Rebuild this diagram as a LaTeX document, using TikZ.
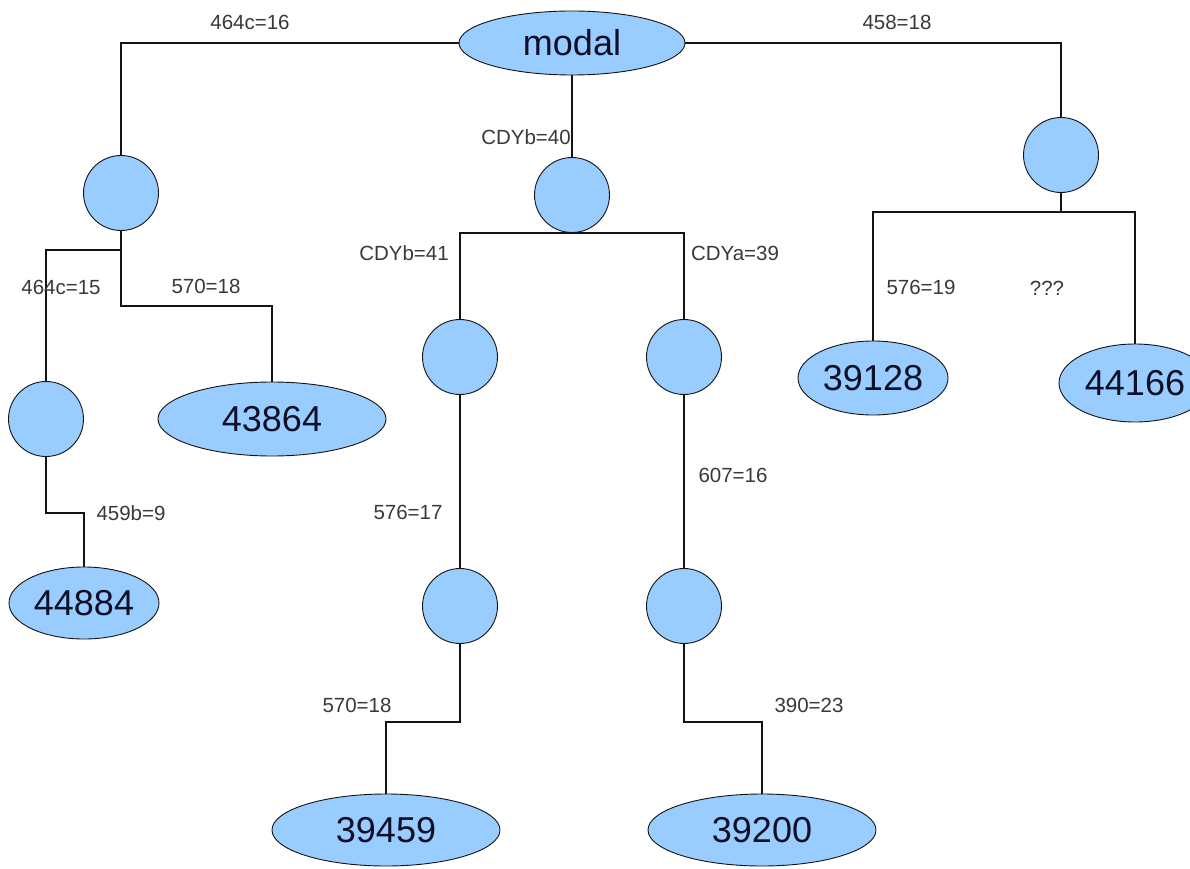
\documentclass[tikz,border=0pt]{standalone}
\usepackage{fontspec}
\setmainfont{Liberation Sans}
\usetikzlibrary{shapes.geometric}
\definecolor{nodefill}{RGB}{153,204,255}
\definecolor{edgecol}{RGB}{20,20,20}
\definecolor{labcol}{RGB}{60,55,60}
\definecolor{bigtext}{RGB}{15,15,40}
\tikzset{
  x=1pt, y=-1pt,
  leaf/.style={ellipse, draw=edgecol, fill=nodefill, line width=0.9pt, inner sep=0pt,
    text=bigtext, font=\fontsize{36}{40}\selectfont},
  split/.style={circle, draw=edgecol, fill=nodefill, line width=0.9pt, inner sep=0pt, minimum size=75pt},
  edge/.style={draw=edgecol, line width=1.1pt},
  lab/.style={text=labcol, font=\fontsize{20.5}{24}\selectfont, inner sep=0pt}
}
\begin{document}
\begin{tikzpicture}
\useasboundingbox (0,0) rectangle (1190,869);
\fill[white] (0,0) rectangle (1190,869);
% nodes
\node[leaf, minimum width=226pt, minimum height=64pt] (modal) at (572,43) {modal};
\node[split] (L1) at (121,193) {};
\node[split] (L2) at (46,419) {};
\node[leaf, minimum width=150pt, minimum height=72pt] (E44884) at (84,603) {44884};
\node[leaf, minimum width=228pt, minimum height=74pt] (E43864) at (272,419) {43864};
\node[split] (C1) at (572,195) {};
\node[split] (CL) at (460,357) {};
\node[split] (CR) at (684,357) {};
\node[split] (CL2) at (460,606) {};
\node[split] (CR2) at (684,606) {};
\node[leaf, minimum width=228pt, minimum height=72pt] (E39459) at (386,830) {39459};
\node[leaf, minimum width=228pt, minimum height=72pt] (E39200) at (762,830) {39200};
\node[split] (R1) at (1061,155) {};
\node[leaf, minimum width=150pt, minimum height=74pt] (E39128) at (873,378) {39128};
\node[leaf, minimum width=152pt, minimum height=78pt] (E44166) at (1135,383) {44166};
% connectors
\draw[edge] (modal.west) -| (L1.north);
\draw[edge] (modal.east) -| (R1.north);
\draw[edge] (modal.south) -- (C1.north);
\draw[edge] (L1.south) -- (L1.south |- 0,250) -| (L2.north);
\draw[edge] (L1.south) -- (L1.south |- 0,306) -| (E43864.north);
\draw[edge] (L2.south) -- (L2.south |- 0,513) -| (E44884.north);
\draw[edge] (CL.north) |- (C1.south) -| (CR.north);
\draw[edge] (CL.south) -- (CL2.north);
\draw[edge] (CR.south) -- (CR2.north);
\draw[edge] (CL2.south) -- (CL2.south |- 0,722) -| (E39459.north);
\draw[edge] (CR2.south) -- (CR2.south |- 0,722) -| (E39200.north);
\draw[edge] (R1.south) -- (R1.south |- 0,212);
\draw[edge] (E39128.north) |- (R1.south |- 0,212) -| (E44166.north);
% labels
\node[lab] (t1) at (250,22) {464c=16};
\node[lab] (t2) at (897,22) {458=18};
\node[lab] (t3) at (526,137) {CDYb=40};
\node[lab] (t4) at (61,287) {464c=15};
\node[lab] (t5) at (206,286) {570=18};
\node[lab] (t6) at (131,513) {459b=9};
\node[lab] (t7) at (404,253) {CDYb=41};
\node[lab] (t8) at (735,253) {CDYa=39};
\node[lab] (t9) at (408,512) {576=17};
\node[lab] (t10) at (733,475) {607=16};
\node[lab] (t11) at (357,705) {570=18};
\node[lab] (t12) at (809,705) {390=23};
\node[lab] (t13) at (921,287) {576=19};
\node[lab] (t14) at (1047,288) {???};
\end{tikzpicture}
\end{document}
